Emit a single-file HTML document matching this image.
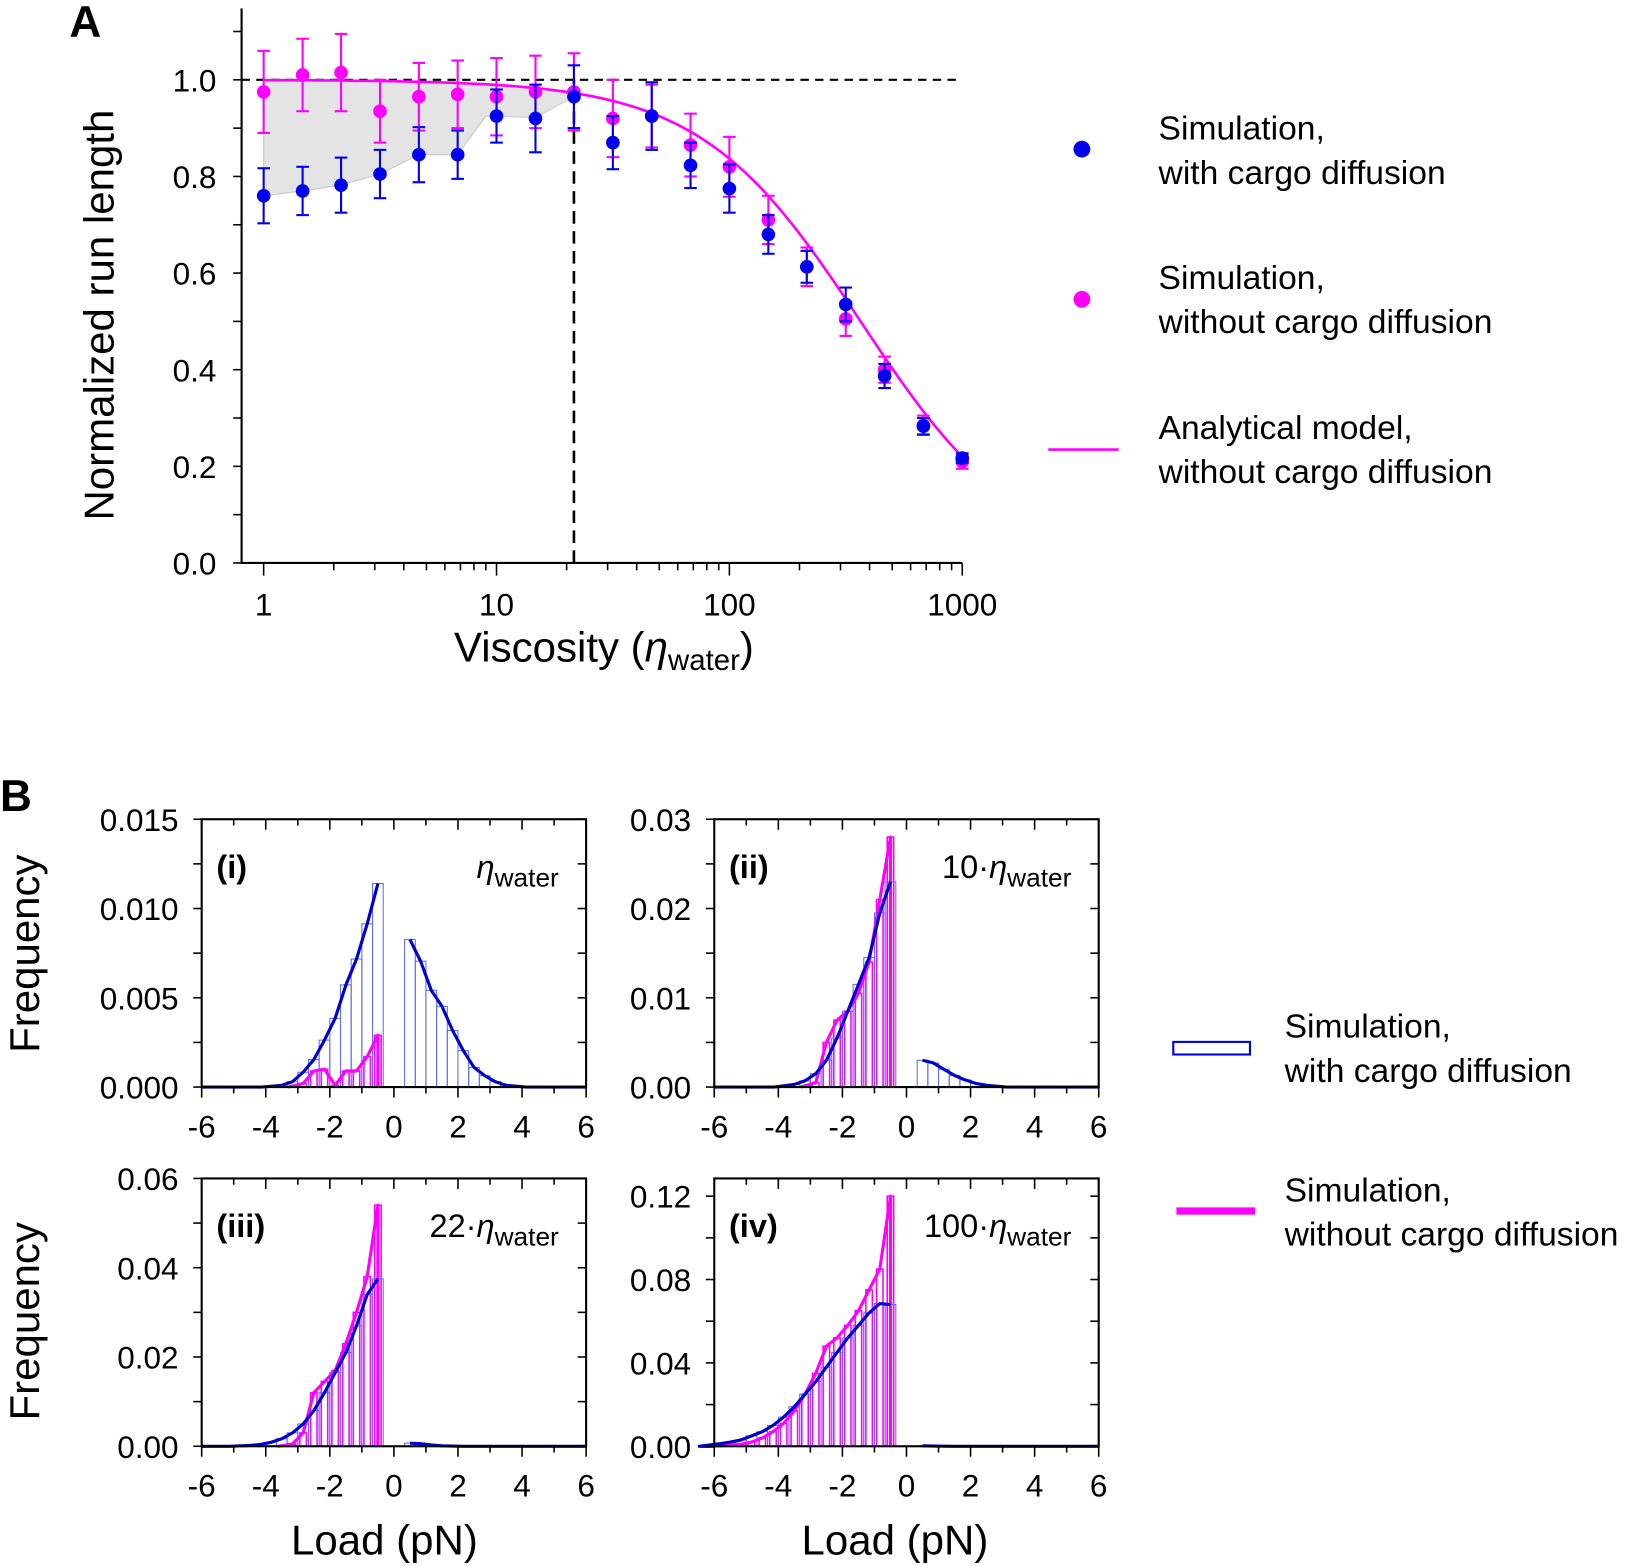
<!DOCTYPE html>
<html><head><meta charset="utf-8"><style>
html,body{margin:0;padding:0;background:#fff;}
svg{display:block;font-family:"Liberation Sans",Arial,sans-serif;}
</style></head><body>
<svg id="s" width="1647" height="1566" viewBox="0 0 1568 1491" preserveAspectRatio="none" xmlns="http://www.w3.org/2000/svg"></svg>
<script>
const S=document.getElementById('s');let h='';
const BL='#0000ee',PK='#ff00ff';
function t(x,y,s,sz,anc,extra){h+=`<text x="${x}" y="${y}" font-size="${sz}" text-anchor="${anc||'start'}" ${extra||''}>${s}</text>`;}
function ln(x1,y1,x2,y2,c,w,extra){h+=`<line x1="${x1}" y1="${y1}" x2="${x2}" y2="${y2}" stroke="${c}" stroke-width="${w}" ${extra||''}/>`;}
// ===== Panel A =====
const X=v=>251+221.7*Math.log10(v), Y=v=>536-460*v;
t(66,35,'A',42,'start','font-weight="bold"');
const xs=[1,1.47,2.15,3.16,4.64,6.81,10,14.7,21.5,31.6,46.4,68.1,100,147,215,316,464,681,1000];
const bY=[.76,.77,.782,.805,.845,.845,.925,.92,.965,.87,.925,.823,.775,.68,.613,.535,.387,.283,.217];
const bE=[.057,.05,.057,.05,.057,.05,.055,.07,.065,.055,.07,.047,.05,.04,.033,.035,.025,.017,.01];
const pY=[.975,1.01,1.015,.935,.965,.97,.965,.975,.975,.92,.925,.865,.82,.71,.613,.505,.4,.285,.21];
const pE=[.085,.075,.08,.065,.07,.07,.08,.075,.08,.08,.065,.065,.062,.05,.04,.035,.027,.02,.015];
const f=x=>1/(1+Math.pow(x/366,1.26));
let g='M'+X(1)+','+Y(f(1));
for(let i=0;i<=40;i++){const x=Math.pow(10,i/40*Math.log10(21.5));g+=' L'+X(x).toFixed(1)+','+Y(f(x)).toFixed(1);}
const low=[[1,.76],[1.47,.77],[2.15,.782],[3.16,.805],[4.64,.845],[6.81,.845],[9,.925],[14.7,.922],[21.5,.965]];
for(let i=low.length-1;i>=0;i--)g+=' L'+X(low[i][0]).toFixed(1)+','+Y(low[i][1]).toFixed(1);
h+=`<path d="${g} Z" fill="#e4e4e4" stroke="#c8c8c8" stroke-width="1"/>`;
ln(230,76,916,76,'#000',2,'stroke-dasharray="8,6"');
ln(X(21.5),536,X(21.5),76,'#000',2.5,'stroke-dasharray="12,7"');
ln(230,8,230,537,'#000',2);ln(229,536,916,536,'#000',2);
for(let k=0;k<=11;k++){const y=Y(k/10);ln(222,y,230,y,'#000',1.5);}
for(let k=0;k<=5;k++){t(206,Y(k*.2)+11,(k*.2).toFixed(1),30,'end');}
for(let d=0;d<3;d++)for(let m=1;m<=9;m++){const x=X(Math.pow(10,d)*m);ln(x,536,x,m==1?548:543,'#000',1.5);}
ln(X(1000),536,X(1000),548,'#000',1.5);
[['1',1],['10',10],['100',100],['1000',1000]].forEach(a=>t(X(a[1]),586,a[0],30,'middle'));
t(575,630,'Viscosity (<tspan font-style="italic">η</tspan><tspan font-size="28" dy="8">water</tspan><tspan dy="-8">)</tspan>',40,'middle');
t(0,0,'Normalized run length',40,'middle','transform="translate(108,300) rotate(-90)"');
let m='';for(let i=0;i<=120;i++){const x=Math.pow(10,i/40);m+=(i?' L':'M')+X(x).toFixed(1)+','+Y(f(x)).toFixed(1);}
function pts(Ys,Es,c){xs.forEach((x,i)=>{const cx=X(x),y1=Y(Ys[i]-Es[i]),y2=Y(Ys[i]+Es[i]);ln(cx,y1,cx,y2,c,2);ln(cx-6,y1,cx+6,y1,c,2);ln(cx-6,y2,cx+6,y2,c,2);});
 xs.forEach((x,i)=>{h+=`<circle cx="${X(x)}" cy="${Y(Ys[i])}" r="6.5" fill="${c}"/>`;});}
pts(pY,pE,PK);
h+=`<path d="${m}" fill="none" stroke="${PK}" stroke-width="2.5"/>`;
pts(bY,bE,BL);
h+=`<circle cx="1030" cy="142" r="8" fill="${BL}"/><circle cx="1030" cy="285" r="8" fill="${PK}"/>`;
ln(998,428,1065,428,PK,2.5);
[[122,'Simulation,'],[164,'with cargo diffusion'],[264,'Simulation,'],[306,'without cargo diffusion'],[407,'Analytical model,'],[449,'without cargo diffusion']].forEach(a=>t(1103,a[0]+11,a[1],32));
// ===== Panel B =====
t(0,772,'B',42,'start','font-weight="bold"');
const panels=[
 {L:192,T:780,ymax:.015,step:.005,dec:3,minor:.0025,lab:'(i)',eta:'',
  b:{n:[.0114,.00914,.00717,.00572,.00385,.00263,.00154,.00083,.0003,.0001],p:[.00827,.00705,.00542,.00452,.00317,.00204,.0011,.00064,.0003,.0001]},
  pk:[.0029,.0017,.0009,.0009,.0001,.001,.0009,.0002]},
 {L:680,T:780,ymax:.03,step:.01,dec:2,minor:.005,lab:'(ii)',eta:'10·',
  b:{n:[.023,.0195,.0145,.0115,.0085,.0055,.003,.0015,.0007,.0003],p:[.003,.0027,.002,.0013,.0008,.0004,.0002]},
  pk:[.028,.021,.014,.0105,.0085,.0075,.005,.0005]},
 {L:192,T:1122,ymax:.06,step:.02,dec:2,minor:.01,lab:'(iii)',eta:'22·',
  b:{n:[.0375,.034,.027,.021,.0165,.012,.008,.005,.003,.0017,.0009,.0004,.0002],p:[.0007,.0006,.0003,.0001]},
  pk:[.054,.038,.03,.023,.017,.0145,.012,.003,.0005]},
 {L:680,T:1122,ymax:.1285,step:.04,dec:2,minor:.02,lab:'(iv)',eta:'100·',
  b:{n:[.068,.0685,.064,.058,.052,.045,.038,.031,.025,.019,.014,.01,.007,.005,.003,.002,.0012],p:[.0002,.0001]},
  pk:[.12,.085,.075,.065,.058,.052,.048,.035,.025,.017,.011,.007,.004,.002,.001,.0005,.0002]}
];
panels.forEach(P=>{
 const L=P.L,R=L+366,T=P.T,B=T+255;
 const px=v=>L+(v+6)*30.5, py=v=>B-v/P.ymax*255;
 P.pk.forEach((v,i)=>{const x0=px(-1/3-(i+1)/3),x1=px(-1/3-i/3);h+=`<rect x="${x0+2}" y="${py(v)}" width="${x1-x0-4}" height="${B-py(v)}" fill="none" stroke="${PK}" stroke-width="1.5"/>`;});
 P.b.n.forEach((v,i)=>{const x0=px(-1/3-(i+1)/3),x1=px(-1/3-i/3);h+=`<rect x="${x0}" y="${py(v)}" width="${x1-x0}" height="${B-py(v)}" fill="none" stroke="#5a6cff" stroke-width="1"/>`;});
 P.b.p.forEach((v,i)=>{const x0=px(1/3+i/3),x1=px(1/3+(i+1)/3);h+=`<rect x="${x0}" y="${py(v)}" width="${x1-x0}" height="${B-py(v)}" fill="none" stroke="#5a6cff" stroke-width="1"/>`;});
 let pl='';const pn=P.pk.length;pl='M'+px(-1/3-pn/3-0.3)+','+B;
 for(let i=pn-1;i>=0;i--)pl+=' L'+px(-0.5-i/3).toFixed(1)+','+py(P.pk[i]).toFixed(1);
 pl+=' L'+px(-0.5)+','+B;
 h+=`<path d="${pl}" fill="none" stroke="${PK}" stroke-width="3" stroke-linejoin="round"/>`;
 let bl='M'+L+','+B+' L'+px(-0.5-P.b.n.length/3-0.3)+','+B;
 for(let i=P.b.n.length-1;i>=0;i--)bl+=' L'+px(-0.5-i/3).toFixed(1)+','+py(P.b.n[i]).toFixed(1);
 h+=`<path d="${bl}" fill="none" stroke="#0000cc" stroke-width="3" stroke-linejoin="round"/>`;
 let br='M'+px(0.5)+','+py(P.b.p[0]);
 for(let i=1;i<P.b.p.length;i++)br+=' L'+px(0.5+i/3).toFixed(1)+','+py(P.b.p[i]).toFixed(1);
 br+=' L'+px(0.5+P.b.p.length/3+0.3)+','+B+' L'+R+','+B;
 h+=`<path d="${br}" fill="none" stroke="#0000cc" stroke-width="3" stroke-linejoin="round"/>`;
 h+=`<rect x="${L}" y="${T}" width="366" height="255" fill="none" stroke="#000" stroke-width="2"/>`;
 for(let v=0;v<=P.ymax+1e-9;v+=P.minor){const y=py(v);ln(L-8,y,L,y,'#000',1.5);ln(R,y,R-8,y,'#000',1.5);}
 for(let k=0;k*P.step<=P.ymax+1e-9;k++){t(L-22,py(k*P.step)+11,(k*P.step).toFixed(P.dec),30,'end');}
 for(let v=-6;v<=6;v++){const x=px(v);const big=v%2==0;ln(x,B,x,B+(big?10:6),'#000',1.5);ln(x,T,x,T+(big?10:6),'#000',1.5);}
 for(let v=-6;v<=6;v+=2)t(px(v),B+48,String(v),30,'middle');
 t(L+14,T+56,P.lab,31,'start','font-weight="bold"');
 t(R-26,T+56,P.eta+'<tspan font-style="italic">η</tspan><tspan font-size="25" dy="8">water</tspan>',31,'end');
});
t(0,0,'Frequency',40,'middle','transform="translate(37,908) rotate(-90)"');
t(0,0,'Frequency',40,'middle','transform="translate(37,1258) rotate(-90)"');
t(366,1480,'Load (pN)',40,'middle');t(852,1480,'Load (pN)',40,'middle');
h+=`<rect x="1117" y="992" width="73" height="12" fill="none" stroke="${BL}" stroke-width="2"/>`;
ln(1120,1153,1195,1153,PK,7);
[[977,'Simulation,'],[1019,'with cargo diffusion'],[1133,'Simulation,'],[1175,'without cargo diffusion']].forEach(a=>t(1223,a[0]+11,a[1],32));
S.innerHTML=h;
</script>
</body></html>
